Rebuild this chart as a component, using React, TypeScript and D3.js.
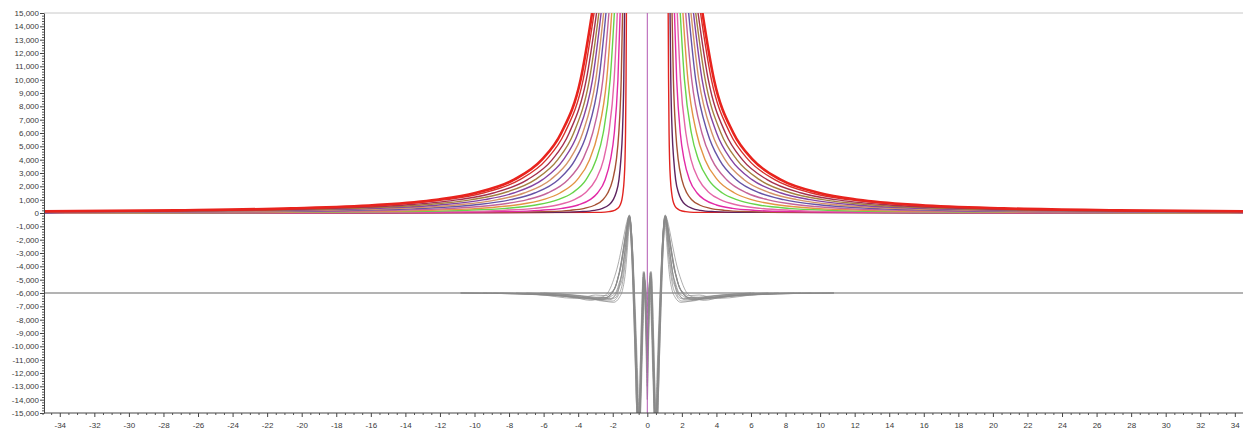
import React, { useEffect, useRef } from "react";
import * as d3 from "d3";

const W = 1243;
const H = 429;

// Axis ticks
const xTickValues = [-34, -32, -30, -28, -26, -24, -22, -20, -18, -16, -14, -12, -10, -8, -6, -4, -2, 0, 2, 4, 6, 8, 10, 12, 14, 16, 18, 20, 22, 24, 26, 28, 30, 32, 34];
const yTickValues = [-15000, -14000, -13000, -12000, -11000, -10000, -9000, -8000, -7000, -6000, -5000, -4000, -3000, -2000, -1000, 0, 1000, 2000, 3000, 4000, 5000, 6000, 7000, 8000, 9000, 10000, 11000, 12000, 13000, 14000, 15000];

// Upper family: value levels, and for each curve the x (positive side) where it crosses each level
const levels = [17000, 10000, 6000, 4000, 2500, 1500, 1000, 600, 350, 200, 100, 50];
const upperCurveX: number[][] = [
  [2.96, 3.86, 4.98, 6.10, 7.71, 9.96, 12.20, 15.75, 20.62, 27.28, 38.58, 54.56],
  [2.86, 3.71, 4.78, 5.84, 7.37, 9.50, 11.63, 15.00, 19.63, 25.94, 36.67, 51.84],
  [2.73, 3.53, 4.52, 5.50, 6.93, 8.91, 10.89, 14.02, 18.32, 24.19, 34.17, 48.27],
  [2.61, 3.35, 4.26, 5.18, 6.49, 8.33, 10.15, 13.05, 17.03, 22.46, 31.67, 44.71],
  [2.50, 3.17, 4.01, 4.85, 6.06, 7.74, 9.42, 12.08, 15.73, 20.72, 29.18, 41.16],
  [2.37, 2.98, 3.74, 4.50, 5.60, 7.13, 8.65, 11.06, 14.37, 18.89, 26.57, 37.42],
  [2.25, 2.80, 3.49, 4.17, 5.15, 6.52, 7.89, 10.05, 13.02, 17.08, 23.96, 33.70],
  [2.10, 2.57, 3.16, 3.74, 4.59, 5.77, 6.94, 8.80, 11.35, 14.84, 20.76, 29.13],
  [1.96, 2.35, 2.85, 3.34, 4.05, 5.05, 6.03, 7.60, 9.75, 12.69, 17.67, 24.72],
  [1.82, 2.15, 2.55, 2.96, 3.54, 4.35, 5.17, 6.45, 8.21, 10.62, 14.71, 20.49],
  [1.67, 1.92, 2.23, 2.53, 2.98, 3.60, 4.22, 5.20, 6.55, 8.38, 11.51, 15.92],
  [1.52, 1.70, 1.91, 2.13, 2.44, 2.88, 3.31, 4.00, 4.94, 6.23, 8.42, 11.52],
  [1.40, 1.51, 1.65, 1.79, 2.00, 2.29, 2.57, 3.02, 3.64, 4.48, 5.92, 7.95],
  [1.30, 1.36, 1.44, 1.53, 1.64, 1.81, 1.97, 2.23, 2.59, 3.07, 3.90, 5.06],
  [1.20, 1.23, 1.26, 1.29, 1.34, 1.41, 1.47, 1.57, 1.71, 1.90, 2.22, 2.68],
];
const upperColors = [
  "#e8231d", "#d6302c", "#a3304f", "#a48040", "#8444a2", "#d49468", "#6654a6",
  "#c4649a", "#e39444", "#66d44a", "#e466a8", "#e22aa6", "#a65234", "#5e2460", "#e22420",
];

// Lower family (gray), positive half [x, value]; mirrored for negative x
const grayHalves: number[][][] = [
  [[0, -7000], [0.1, -5600], [0.18, -4400], [0.27, -7500], [0.36, -12000], [0.46, -16500], [0.56, -14000], [0.66, -10000], [0.76, -6000], [0.85, -3000], [0.93, -1100], [1.04, -150], [1.14, -700], [1.28, -1800], [1.45, -3200], [1.65, -4600], [1.9, -5700], [2.3, -6300], [3, -6450], [4.5, -6250], [7, -6080], [10.8, -6000]],
  [[0, -9000], [0.12, -6200], [0.2, -4600], [0.3, -8200], [0.4, -13000], [0.5, -17000], [0.6, -13500], [0.7, -9000], [0.78, -5500], [0.86, -2700], [0.95, -900], [1.03, -200], [1.12, -900], [1.24, -2200], [1.38, -3700], [1.55, -5000], [1.8, -6000], [2.2, -6500], [2.9, -6500], [4, -6300], [6, -6100], [8.9, -6000]],
  [[0, -12000], [0.08, -8000], [0.16, -5000], [0.25, -8000], [0.35, -12500], [0.44, -17500], [0.54, -15000], [0.64, -11000], [0.74, -7000], [0.83, -3800], [0.92, -1500], [1.0, -300], [1.1, -800], [1.22, -2000], [1.36, -3500], [1.52, -4900], [1.72, -5900], [2.1, -6400], [2.7, -6350], [3.8, -6200], [5.5, -6050], [7.6, -6000]],
  [[0, -8000], [0.11, -5800], [0.22, -4500], [0.32, -9000], [0.42, -14000], [0.52, -18000], [0.62, -14500], [0.72, -9500], [0.81, -5200], [0.89, -2400], [0.97, -800], [1.06, -250], [1.17, -1000], [1.33, -2400], [1.52, -3900], [1.75, -5200], [2.05, -6000], [2.5, -6400], [3.3, -6350], [5, -6150], [7.5, -6050], [10.8, -6000]],
  [[0, -14000], [0.09, -9000], [0.19, -5200], [0.28, -8800], [0.38, -13500], [0.48, -16800], [0.58, -13000], [0.68, -8700], [0.77, -5300], [0.86, -2600], [0.94, -1000], [1.02, -350], [1.1, -1200], [1.2, -2700], [1.32, -4200], [1.46, -5400], [1.65, -6100], [2.0, -6600], [2.6, -6600], [3.5, -6300], [4.8, -6100], [6.2, -6000]],
  [[0, -10500], [0.1, -7000], [0.21, -4700], [0.31, -8500], [0.41, -13200], [0.51, -16200], [0.61, -13000], [0.71, -9200], [0.8, -5800], [0.88, -3000], [0.96, -1000], [1.05, -180], [1.16, -800], [1.31, -2000], [1.5, -3600], [1.72, -5000], [2.0, -5900], [2.4, -6350], [3.2, -6400], [4.6, -6200], [6.8, -6050], [9.5, -6000]],
  [[0, -6500], [0.12, -5200], [0.24, -4800], [0.33, -8000], [0.43, -12800], [0.53, -17200], [0.63, -14200], [0.73, -9800], [0.82, -6200], [0.9, -3300], [0.98, -1300], [1.07, -400], [1.18, -1100], [1.35, -2600], [1.58, -4300], [1.85, -5500], [2.2, -6200], [2.7, -6500], [3.6, -6400], [5.2, -6200], [8, -6050], [10.8, -6000]],
  [[0, -13000], [0.07, -9500], [0.15, -5800], [0.24, -8500], [0.34, -13000], [0.45, -16000], [0.55, -12500], [0.65, -8800], [0.75, -5600], [0.84, -3000], [0.93, -1200], [1.01, -450], [1.08, -1400], [1.17, -3000], [1.28, -4600], [1.42, -5700], [1.6, -6300], [1.95, -6700], [2.5, -6600], [3.3, -6350], [4.5, -6150], [6, -6000]],
  [[0, -11000], [0.1, -7500], [0.17, -4500], [0.26, -7000], [0.37, -12500], [0.47, -15800], [0.57, -13500], [0.67, -9500], [0.77, -6500], [0.86, -3500], [0.95, -1400], [1.06, -300], [1.15, -900], [1.25, -1900], [1.4, -3000], [1.55, -4200], [1.7, -4800], [1.85, -5600], [2.05, -5900], [2.4, -6200], [3, -6150], [3.8, -6350], [5.5, -6150], [8.5, -6000]],
  [[0, -7500], [0.13, -5300], [0.23, -4400], [0.32, -7000], [0.41, -11500], [0.5, -15500], [0.6, -15000], [0.7, -11000], [0.79, -7200], [0.87, -4000], [0.96, -1700], [1.05, -500], [1.13, -1000], [1.22, -2300], [1.34, -3300], [1.48, -4600], [1.62, -5200], [1.8, -5900], [2.1, -6250], [2.6, -6500], [3.4, -6300], [4.2, -6400], [6.5, -6100], [10.8, -6000]],
  [[0, -10000], [0.09, -6800], [0.2, -5500], [0.29, -9000], [0.39, -14000], [0.49, -17500], [0.59, -14000], [0.69, -9800], [0.79, -6300], [0.88, -3400], [0.97, -1300], [1.07, -250], [1.18, -650], [1.32, -1500], [1.5, -2700], [1.7, -3900], [1.95, -5000], [2.2, -5800], [2.6, -6300], [3.3, -6550], [4.3, -6300], [5.5, -6200], [7.5, -6050]],
  [[0, -9500], [0.11, -6000], [0.19, -4600], [0.29, -8000], [0.39, -13000], [0.48, -17000], [0.58, -14000], [0.68, -10000], [0.77, -6500], [0.86, -3200], [0.94, -1200], [1.02, -250], [1.11, -1100], [1.21, -2600], [1.33, -3800], [1.46, -5000], [1.6, -5500], [1.8, -6300], [2.1, -6450], [2.7, -6300], [3.5, -6450], [5, -6200], [7, -6000]],
];
const grayBaseline: number[][] = [[-35, -6000], [35, -6000]];

export default function App() {
  const ref = useRef<SVGSVGElement | null>(null);

  useEffect(() => {
    const svg = d3.select(ref.current);
    svg.selectAll("*").remove();

    const left = 44, top = 13, bottom = 413;
    const x = d3.scaleLinear().domain([-35, 35]).range([42.5, 1252.1]);
    const y = d3.scaleLinear().domain([-15000, 15000]).range([bottom, top]);

    const fmt = d3.formatLocale({ decimal: ".", thousands: ",", grouping: [3], currency: ["", ""], minus: "-" }).format(",");

    svg.append("defs").append("clipPath").attr("id", "plotclip")
      .append("rect").attr("x", left).attr("y", top).attr("width", W - left).attr("height", bottom - top);

    // top frame line
    svg.append("line").attr("x1", left).attr("x2", W).attr("y1", top).attr("y2", top)
      .attr("stroke", "#c8c8c8").attr("stroke-width", 1);

    const plot = svg.append("g").attr("clip-path", "url(#plotclip)");
    const line = d3.line<number[]>().x((d) => x(d[0])).y((d) => y(d[1])).curve(d3.curveMonotoneX);

    // gray baseline
    plot.append("path").attr("d", line(grayBaseline) as string).attr("fill", "none")
      .attr("stroke", "#9a9a9a").attr("stroke-width", 1.6);

    // gray family
    grayHalves.forEach((half) => {
      const neg = half.slice(1).map(([a, b]) => [-a, b]).reverse();
      const full = neg.concat(half);
      plot.append("path").attr("d", line(full) as string).attr("fill", "none")
        .attr("stroke", "#8a8a8a").attr("stroke-width", 0.7);
    });

    // upper family (inner first so outer red lies on top)
    for (let i = upperCurveX.length - 1; i >= 0; i--) {
      const right = levels.map((v, j) => [upperCurveX[i][j], v]);
      if (right[right.length - 1][0] < 35) right.push([35, 0]);
      const leftSide = right.map(([a, b]) => [-a, b]).reverse();
      const w = i === 0 ? 2.6 : 1.4;
      [leftSide, right].forEach((pts) => {
        plot.append("path").attr("d", line(pts) as string).attr("fill", "none")
          .attr("stroke", upperColors[i]).attr("stroke-width", w);
      });
    }

    // center line at x=0
    plot.append("line").attr("x1", x(0)).attr("x2", x(0)).attr("y1", top).attr("y2", bottom)
      .attr("stroke", "#b258b2").attr("stroke-width", 1);

    // Y axis
    const yMinor = d3.range(-15000, 15001, 200).filter((v) => v % 1000 !== 0);
    svg.append("g").attr("transform", `translate(${left},0)`)
      .call(d3.axisLeft(y).tickValues(yMinor).tickSize(2).tickSizeOuter(0).tickFormat(() => ""))
      .call((g) => g.select(".domain").remove())
      .call((g) => g.selectAll("line").attr("stroke", "#555"));
    svg.append("g").attr("transform", `translate(${left},0)`)
      .call(d3.axisLeft(y).tickValues(yTickValues).tickSize(4).tickSizeOuter(0).tickPadding(1).tickFormat((d) => fmt(d as number)))
      .call((g) => g.select(".domain").attr("stroke", "#444"))
      .call((g) => g.selectAll("line").attr("stroke", "#444"))
      .call((g) => g.selectAll("text").attr("fill", "#3a3a3a").style("font-size", "8px").style("font-family", "'Liberation Sans', Arial, sans-serif"));

    // X axis
    const xMinor = d3.range(-35, 35.01, 0.5).filter((v) => v % 2 !== 0);
    svg.append("g").attr("transform", `translate(0,${bottom})`)
      .call(d3.axisBottom(x).tickValues(xMinor).tickSize(2).tickSizeOuter(0).tickFormat(() => ""))
      .call((g) => g.select(".domain").remove())
      .call((g) => g.selectAll("line").attr("stroke", "#555"));
    svg.append("g").attr("transform", `translate(0,${bottom})`)
      .call(d3.axisBottom(x).tickValues(xTickValues).tickSize(4).tickSizeOuter(0).tickPadding(5).tickFormat((d) => fmt(d as number)))
      .call((g) => g.select(".domain").attr("stroke", "#444").attr("d", `M${left},0H${W}`))
      .call((g) => g.selectAll("line").attr("stroke", "#444"))
      .call((g) => g.selectAll("text").attr("fill", "#3a3a3a").style("font-size", "8px").style("font-family", "'Liberation Sans', Arial, sans-serif"));
  }, []);

  return (
    <svg
      ref={ref}
      width={W}
      height={H}
      style={{ position: "absolute", left: 0, top: 0, background: "#fff" }}
    />
  );
}
